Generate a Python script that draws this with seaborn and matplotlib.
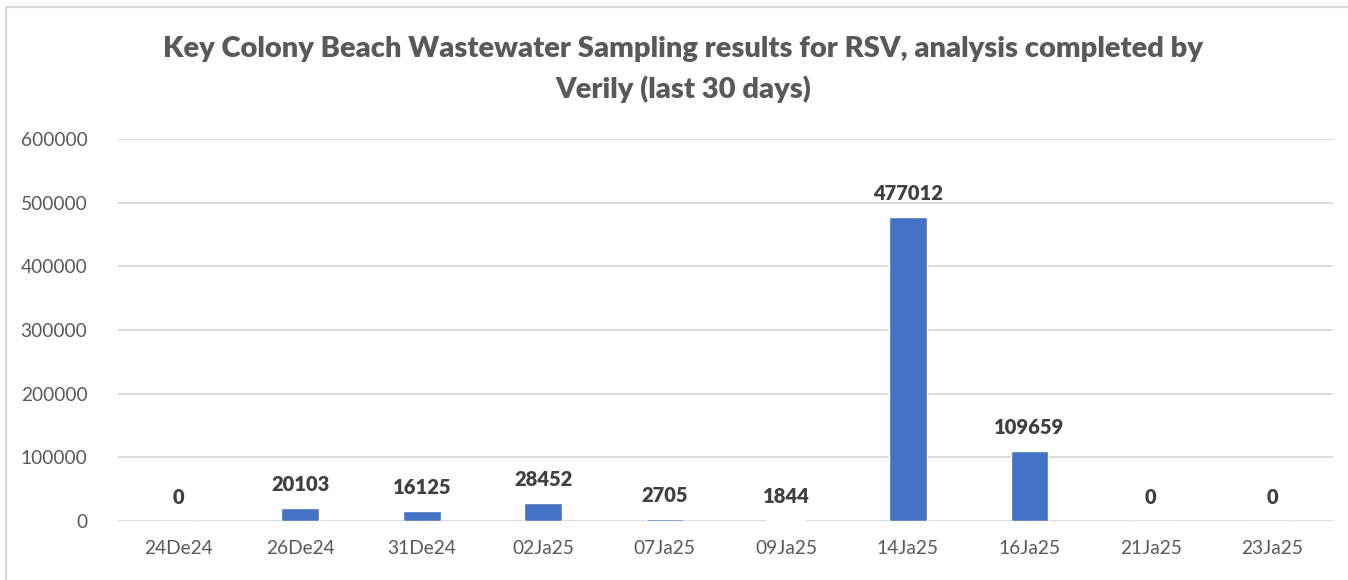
import pandas as pd
import numpy as np
import matplotlib
matplotlib.use('Agg')
import matplotlib.pyplot as plt
import seaborn as sns

# data
dates = ['24De24', '26De24', '31De24', '02Ja25', '07Ja25',
         '09Ja25', '14Ja25', '16Ja25', '21Ja25', '23Ja25']
rsv = [0, 20103, 16125, 28452, 2705, 1844, 477012, 109659, 0, 0]
yticks = [0, 100000, 200000, 300000, 400000, 500000, 600000]

df = pd.DataFrame({'date': dates, 'rsv': rsv})

sns.set_style('white')
plt.rcParams['font.family'] = ['Lato', 'DejaVu Sans']

fig = plt.figure(figsize=(13.48, 5.8), dpi=100)
ax = fig.add_axes([0.0875, 0.1017, 0.9015, 0.6586])

sns.barplot(data=df, x='date', y='rsv', color='#4472C4', width=0.31,
            saturation=1, ax=ax, zorder=3)

ax.set_ylim(0, 600000)
ax.set_yticks(yticks)
ax.set_yticklabels([str(v) for v in yticks])
ax.grid(axis='y', color='#d9d9d9', linewidth=1.3, zorder=0)
ax.set_xlim(-0.5, len(dates) - 0.5)
for s in ax.spines.values():
    s.set_visible(False)
ax.set_xlabel('')
ax.set_ylabel('')
ax.tick_params(axis='both', length=0, labelsize=13.8, colors='#595959')
ax.tick_params(axis='x', pad=14)
ax.tick_params(axis='y', pad=22)

for i, v in enumerate(rsv):
    ax.annotate(str(v), (i, v), xytext=(0, 10), textcoords='offset points',
                ha='center', va='bottom', fontsize=14.5, fontweight='heavy',
                color='#404040')

fig.text(0.507, 0.915, 'Key Colony Beach Wastewater Sampling results for RSV, analysis completed by',
         ha='center', va='center', fontsize=21, fontweight='heavy', color='#595959')
fig.text(0.507, 0.847, 'Verily (last 30 days)',
         ha='center', va='center', fontsize=21, fontweight='heavy', color='#595959')

# chart frame
frame = plt.Rectangle((0.0045, -0.02), 1.1, 1.008, transform=fig.transFigure,
                      fill=False, edgecolor='#d9d9d9', linewidth=1.5)
fig.patches.append(frame)

fig.savefig('out.png', dpi=100)
